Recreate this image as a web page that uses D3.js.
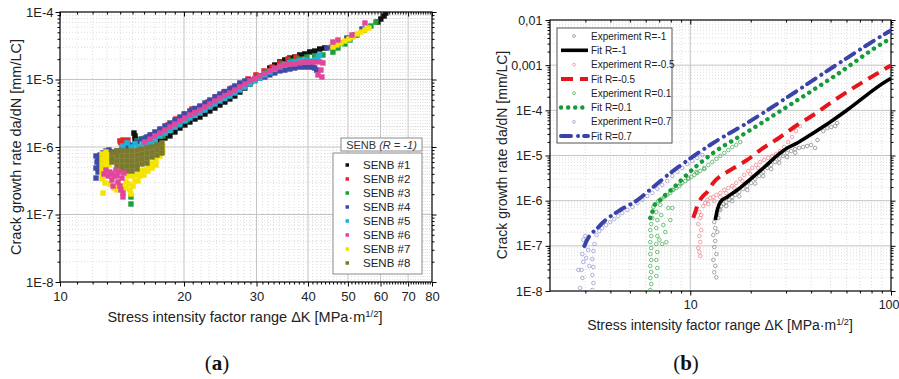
<!DOCTYPE html>
<html>
<head>
<meta charset="utf-8">
<script src="https://cdn.jsdelivr.net/npm/d3@7"></script>
<style>
  body { margin: 0; background: #fff; }
  svg { display: block; font-family: "Liberation Sans", Arial, sans-serif; }
</style>
</head>
<body>
<svg id="fig" width="899" height="379"></svg>
<script>
// ---------------- panel (a): SENB specimens, R = -1 ----------------
const aXTicks = [10, 20, 30, 40, 50, 60, 70, 80];
const aXTickLabels = ["10", "20", "30", "40", "50", "60", "70", "80"];
const aYTicks = [1e-8, 1e-7, 1e-6, 1e-5, 1e-4];
const aYTickLabels = ["1E-8", "1E-7", "1E-6", "1E-5", "1E-4"];
const senbNames = ["SENB #1", "SENB #2", "SENB #3", "SENB #4", "SENB #5", "SENB #6", "SENB #7", "SENB #8"];
const senbColors = ["#111111", "#e8262a", "#1f9e3c", "#3f4aa6", "#1fb2d8", "#e0479c", "#f5e400", "#7b7a2c"];

// [ΔK (MPa·m^1/2), da/dN (mm/LC)]
const senb1 = [[15.12,1.61e-6],[15.21,1.46e-6],[15.21,1.31e-6],
  [17.00,1.11e-6],[17.49,1.23e-6],[17.98,1.36e-6],[18.49,1.46e-6],[19.01,1.67e-6],[19.55,1.91e-6],[20.10,2.12e-6],
  [20.67,2.35e-6],[21.26,2.60e-6],[21.86,2.78e-6],[22.48,3.08e-6],[23.11,3.42e-6],[23.77,3.78e-6],[24.44,4.19e-6],
  [25.13,4.64e-6],[25.84,5.15e-6],[26.57,5.70e-6],[27.33,6.53e-6],[28.10,7.48e-6],[28.89,8.58e-6],[29.71,9.83e-6],
  [30.55,1.13e-5],[31.42,1.29e-5],[32.31,1.48e-5],[33.22,1.64e-5],[34.16,1.82e-5],[35.13,1.95e-5],[36.12,2.08e-5],
  [37.14,2.15e-5],[38.19,2.31e-5],[39.27,2.39e-5],[40.39,2.56e-5],[41.53,2.64e-5],[42.70,2.83e-5],[43.91,2.93e-5],
  [59.1,7.11e-5],[60.1,7.87e-5],[61.2,8.73e-5],[61.8,9.67e-5]];
const senb2 = [[13.98,1.23e-6],[14.22,1.27e-6],[14.46,1.19e-6],[14.62,1.27e-6],[14.06,1.15e-6],
  [16.72,1.51e-6],[17.48,1.79e-6],[18.29,2.12e-6],[19.12,2.60e-6],[20.0,3.08e-6],[20.91,3.66e-6],[21.86,3.92e-6],
  [22.87,4.64e-6],[23.91,5.51e-6],[25.0,6.53e-6],[26.15,7.48e-6],[27.33,8.58e-6],[28.60,1.02e-5],[29.90,1.17e-5],
  [31.27,1.34e-5],[32.70,1.53e-5],[34.16,1.76e-5],[35.76,2.01e-5],[37.39,2.15e-5]];
const senb3 = [[14.87,1.82e-7],[14.87,1.43e-7],
  [15.38,1.23e-6],[15.72,1.31e-6],[16.08,1.36e-6],[16.53,1.27e-6],
  [17.00,1.23e-6],[17.78,1.46e-6],[18.59,1.79e-6],[19.45,2.12e-6],[20.34,2.51e-6],[21.26,2.98e-6],[22.24,3.53e-6],
  [23.25,4.19e-6],[24.31,4.97e-6],[25.42,5.70e-6],[26.57,6.53e-6],[27.81,7.75e-6],[29.08,9.18e-6],[30.41,1.09e-5],
  [31.80,1.29e-5],[33.22,1.48e-5],[34.77,1.70e-5],[36.36,1.88e-5],[38.03,2.01e-5],[39.77,2.15e-5],[41.53,2.23e-5],
  [43.48,2.31e-5],
  [45.98,2.55e-5],[47.28,2.93e-5],[49.17,3.36e-5],[50.57,3.85e-5],[52.59,4.56e-5],[54.69,5.41e-5],[56.87,6.20e-5],
  [58.48,7.11e-5]];
const senb4 = [[12.23,7.36e-7],[12.37,6.87e-7],[12.51,7.61e-7],[12.30,5.99e-7],[12.44,5.60e-7],[12.23,4.88e-7],
  [12.51,4.88e-7],[12.37,4.26e-7],[12.58,6.42e-7],[12.23,3.47e-7],[12.72,8.15e-7],[12.93,8.73e-7],[13.15,9.03e-7],
  [13.37,8.43e-7],[13.75,8.73e-7],[14.14,9.34e-7],[14.54,1.0e-6],[14.95,1.07e-6],[15.38,1.19e-6],[15.81,1.31e-6],
  [16.26,1.41e-6],[16.54,1.51e-6],[17.00,1.67e-6],[17.49,1.85e-6],[17.98,2.05e-6],[18.49,2.27e-6],[19.01,2.51e-6],
  [19.55,2.78e-6],[20.10,3.08e-6],[20.67,3.42e-6],[21.26,3.72e-6],[21.86,4.05e-6],[22.48,4.49e-6],[23.11,4.97e-6],
  [23.77,5.51e-6],[24.44,6.10e-6],[25.13,6.64e-6],[25.84,7.24e-6],[26.57,8.01e-6],[27.33,8.88e-6],[28.10,9.51e-6],
  [28.89,9.83e-6],[29.71,1.0e-5],[30.55,1.05e-5],[31.42,1.09e-5],[32.31,1.17e-5],[33.22,1.25e-5],[34.16,1.34e-5],
  [35.13,1.38e-5],[36.12,1.43e-5],[37.14,1.48e-5],[38.19,1.53e-5],[39.27,1.53e-5],[40.39,1.53e-5],[41.1,1.53e-5],
  [41.53,1.48e-5],[42.0,1.38e-5],
  [44.46,2.93e-5],[45.74,3.03e-5],[47.75,3.47e-5],[49.71,4.12e-5],[51.92,4.56e-5],[54.08,5.60e-5]];
const senb5 = [[14.22,1.035e-6],[14.54,1.15e-6],[14.87,1.0e-6],[15.21,1.11e-6],[15.55,1.0e-6],[15.90,1.11e-6],
  [16.26,1.035e-6],[16.63,1.07e-6],[17.00,1.15e-6],[17.39,1.07e-6],
  [16.54,1.19e-6],[17.00,1.31e-6],[17.49,1.46e-6],[17.98,1.61e-6],[18.49,1.79e-6],[19.01,1.98e-6],[19.55,2.19e-6],
  [20.10,2.43e-6],[20.67,2.69e-6],[21.26,2.93e-6],[21.86,3.19e-6],[22.48,3.53e-6],[23.11,3.92e-6],[23.77,4.34e-6],
  [24.44,4.81e-6],[25.13,5.23e-6],[25.84,5.70e-6],[26.57,6.31e-6],[27.33,6.99e-6],[28.10,7.75e-6],[28.89,8.58e-6],
  [29.71,9.51e-6],[30.55,1.05e-5],[31.42,1.17e-5],[32.31,1.29e-5],[33.22,1.41e-5],[34.16,1.53e-5],[35.13,1.67e-5],
  [36.12,1.76e-5],[37.14,1.82e-5],[38.19,1.88e-5],[39.27,1.95e-5],[40.39,1.88e-5],[41.53,1.95e-5],[42.3,2.15e-5],
  [42.70,2.31e-5]];
const senb6 = [[16.08,1.19e-6],[16.54,1.31e-6],[17.00,1.46e-6],[17.49,1.61e-6],[17.98,1.79e-6],[18.49,1.98e-6],
  [19.01,2.19e-6],[19.55,2.43e-6],[20.10,2.69e-6],[20.67,2.98e-6],[21.26,3.25e-6],[21.86,3.53e-6],[22.48,3.92e-6],
  [23.11,4.34e-6],[23.77,4.81e-6],[24.44,5.32e-6],[25.13,5.80e-6],[25.84,6.31e-6],[26.57,6.99e-6],[27.33,7.75e-6],
  [28.10,8.58e-6],[28.89,9.51e-6],[29.71,1.035e-5],[30.55,1.13e-5],[31.42,1.23e-5],[32.31,1.34e-5],[33.22,1.46e-5],
  [34.16,1.58e-5],[35.13,1.64e-5],[36.12,1.70e-5],[37.14,1.70e-5],[38.19,1.76e-5],[39.27,1.82e-5],[40.39,1.82e-5],
  [41.53,1.82e-5],[42.70,1.82e-5],
  [42.29,1.17e-5],[43.24,1.09e-5],[43.48,1.76e-5],[43.0,1.38e-5],
  [45.98,3.59e-5],[47.28,3.85e-5],[51.13,4.56e-5],[55.0,6.87e-5],
  [12.93,4.56e-7],[13.08,3.72e-7],[13.22,4.26e-7],[13.37,3.24e-7],[13.52,3.72e-7],[13.67,4.56e-7],[13.83,3.03e-7],
  [13.98,2.64e-7],[14.14,3.47e-7],[14.30,4.12e-7],[13.45,2.64e-7],[13.75,3.72e-7],[14.06,2.31e-7],[13.90,4.26e-7],
  [13.37,3.98e-7],[12.79,3.98e-7],[14.22,2.08e-7],[14.22,1.82e-7]];
const senb7 = [[12.65,7.87e-7],[12.65,6.64e-7],[12.65,5.60e-7],[12.65,4.72e-7],[12.65,3.98e-7],[12.65,3.36e-7],
  [12.86,2.93e-7],[12.93,8.43e-7],[12.93,7.11e-7],[12.93,5.99e-7],[12.93,5.05e-7],[13.15,7.61e-7],[13.15,6.42e-7],
  [13.15,5.41e-7],[12.72,2.08e-7],[13.22,2.83e-7],[13.52,2.47e-7],[13.75,2.31e-7],[13.83,2.83e-7],[14.14,2.64e-7],
  [14.46,3.03e-7],[14.46,2.47e-7],[14.70,2.83e-7],[14.79,2.31e-7],[14.87,2.01e-7],[15.04,2.64e-7],[15.21,3.14e-7],
  [14.62,3.72e-7],[14.95,3.72e-7],[15.29,3.85e-7],[15.64,3.72e-7],[15.64,4.41e-7],[15.99,4.56e-7],[15.99,3.85e-7],
  [16.35,5.23e-7],[16.35,4.41e-7],[16.72,5.79e-7],[16.72,4.88e-7],[17.10,6.42e-7],[17.10,5.41e-7],[17.48,9.03e-7],
  [17.48,7.36e-7],[17.78,1.035e-6],[17.78,8.43e-7],[15.46,3.14e-7],
  [45.98,3.03e-5],[47.01,3.25e-5],[48.08,3.47e-5],[49.17,3.72e-5],[50.29,3.98e-5],[51.43,4.26e-5],[52.59,4.72e-5],
  [53.78,5.05e-5],[55.0,5.41e-5],[56.23,5.79e-5]];
const senb8 = [[13.37,8.15e-7],[13.37,6.87e-7],[13.37,5.99e-7],
  [13.75,8.73e-7],[13.75,7.36e-7],[13.75,6.20e-7],[13.75,5.23e-7],
  [14.14,8.73e-7],[14.14,7.36e-7],[14.14,6.20e-7],[14.14,5.23e-7],[14.14,4.56e-7],
  [14.54,8.73e-7],[14.54,7.36e-7],[14.54,6.20e-7],[14.54,5.23e-7],[14.54,4.41e-7],
  [14.95,8.73e-7],[14.95,7.36e-7],[14.95,6.20e-7],[14.95,5.23e-7],[14.95,4.41e-7],
  [15.38,9.03e-7],[15.38,7.61e-7],[15.38,6.42e-7],[15.38,5.41e-7],[15.38,4.72e-7],
  [15.81,9.34e-7],[15.81,7.87e-7],[15.81,6.64e-7],[15.81,5.60e-7],
  [16.26,9.67e-7],[16.26,8.15e-7],[16.26,6.87e-7],[16.26,5.79e-7],
  [16.72,1.0e-6],[16.72,8.43e-7],[16.72,7.11e-7],
  [17.19,1.07e-6],[17.19,9.03e-7],[17.19,7.61e-7],
  [17.68,1.15e-6],[17.68,9.67e-7],[17.68,8.15e-7]];

// ---------------- panel (b): fits and experiments for four R ratios ----------------
const bXTicks = [10, 100];
const bXTickLabels = ["10", "100"];
const bYTicks = [1e-8, 1e-7, 1e-6, 1e-5, 1e-4, 1e-3, 1e-2];
const bYTickLabels = ["1E-8", "1E-7", "1E-6", "1E-5", "1E-4", "0,001", "0,01"];

const fitRm1 = [[13.32,3.73e-7],[13.63,6.22e-7],[14.11,9.35e-7],[15.29,1.21e-6],[17.15,1.72e-6],[19.2,2.59e-6],
  [23.1,5.29e-6],[28.1,1.14e-5],[30.4,1.47e-5],[34.1,1.89e-5],[41.0,3.15e-5],[49.8,5.52e-5],[60.5,1.02e-4],
  [96.8,4.70e-4],[100,5.1e-4]];
const fitRm05 = [[10.35,4.14e-7],[10.59,5.61e-7],[10.96,8.89e-7],[11.48,1.21e-6],[12.15,1.56e-6],[13.0,2.46e-6],
  [15.29,4.32e-6],[19.2,7.96e-6],[22.3,1.32e-5],[28.1,2.57e-5],[34.1,4.73e-5],[41.0,7.88e-5],[49.8,1.45e-4],
  [96.8,9.1e-4],[100,9.9e-4]];
const fitR01 = [[6.32,4.14e-7],[6.47,5.34e-7],[6.54,7.24e-7],[6.93,9.35e-7],[7.51,1.34e-6],[8.23,1.91e-6],
  [9.23,3.18e-6],[13.0,1.14e-5],[19.2,3.31e-5],[27.1,8.73e-5],[51.5,5.47e-4],[96.8,3.61e-3],[100,3.9e-3]];
const fitR07 = [[2.97,1.0e-7],[3.05,1.3e-7],[3.17,1.75e-7],[3.37,2.24e-7],[3.69,3.37e-7],[4.48,6.22e-7],
  [5.45,1.03e-6],[6.54,2.01e-6],[7.95,4.10e-6],[9.44,7.18e-6],[13.0,1.89e-5],[19.2,5.25e-5],[29.0,1.69e-4],
  [51.5,9.1e-4],[96.8,5.42e-3],[100,5.9e-3]];

const expRm1 = [[13.17,3.37e-7],[13.32,2.48e-7],[13.02,1.73e-7],[13.32,1.28e-7],[13.17,9.4e-8],[13.48,6.6e-8],
  [13.02,4.9e-8],[13.32,3.6e-8],[13.17,2.6e-8],[13.48,2.0e-8],[13.63,2.02e-7],[13.79,4.13e-7],
  [13.63,5.06e-7],[13.95,6.53e-7],[14.27,7.6e-7],[14.60,8.4e-7],[15.11,9.3e-7],[15.64,1.04e-6],[16.18,1.21e-6],
  [16.75,1.34e-6],[17.54,1.56e-6],[18.36,1.82e-6],[19.22,2.11e-6],[20.12,2.47e-6],[21.06,3.02e-6],[22.05,3.52e-6],
  [23.08,4.32e-6],[24.16,5.30e-6],[25.29,6.17e-6],[26.48,7.19e-6],[27.72,8.4e-6],[29.02,9.8e-6],[30.37,1.14e-5],
  [31.80,1.26e-5],[33.29,1.39e-5],[34.85,1.47e-5],[36.48,1.54e-5],[38.19,1.62e-5],[39.98,1.71e-5],[41.85,1.47e-5],
  [14.11,6.2e-7],[15.11,7.6e-7],[16.18,9.8e-7],[17.54,1.25e-6],[19.22,1.72e-6],[21.06,2.4e-6],[23.08,3.5e-6],
  [25.29,5.0e-6],[27.72,6.9e-6],[30.37,9.2e-6],[33.29,1.15e-5],
  [43.04,2.2e-5],[45.96,3.49e-5],[48.1,4.06e-5],[50.4,4.28e-5],[52.7,4.5e-5],[53.9,5.24e-5]];
const expRm05 = [[11.09,5.6e-7],[11.21,4.13e-7],[10.96,3.04e-7],[11.34,2.24e-7],[11.09,1.65e-7],[11.21,1.21e-7],
  [10.96,8.95e-8],[11.21,5.95e-8],[11.09,7.3e-8],[11.34,4.8e-7],
  [11.61,7.6e-7],[11.88,8.9e-7],[12.15,1.04e-6],[12.58,1.15e-6],[13.02,1.21e-6],[13.48,1.34e-6],[14.11,1.48e-6],
  [14.77,1.73e-6],[15.46,1.91e-6],[16.18,2.11e-6],[16.94,2.47e-6],[17.73,3.02e-6],[18.57,3.71e-6],[19.44,4.55e-6],
  [20.35,5.30e-6],[21.30,6.17e-6],[22.30,7.19e-6],[23.35,7.97e-6],[24.44,8.87e-6],[25.58,9.8e-6],[26.78,1.08e-5],
  [28.03,1.26e-5],[29.35,1.54e-5],[30.72,1.99e-5],[32.15,2.57e-5],[33.66,3.49e-5],[35.23,4.50e-5],
  [12.29,8.4e-7],[13.17,9.9e-7],[14.11,1.21e-6],[15.11,1.48e-6],[16.55,1.91e-6],[18.15,2.73e-6],[19.89,3.90e-6],
  [21.79,5.30e-6]];
const expR01 = [[6.32,1.05e-8],[6.39,1.43e-8],[6.32,1.94e-8],[6.39,2.63e-8],[6.32,3.58e-8],[6.39,4.86e-8],
  [6.32,6.59e-8],[6.39,8.95e-8],[6.32,1.21e-7],[6.39,1.65e-7],[6.32,2.24e-7],[6.39,3.04e-7],[6.47,4.13e-7],
  [6.47,5.6e-7],[6.54,7.2e-7],
  [6.77,5.6e-7],[6.85,3.72e-7],[6.77,2.48e-7],[6.85,1.65e-7],[6.77,1.10e-7],[6.85,7.3e-8],[6.77,4.86e-8],
  [6.85,3.23e-8],[6.77,2.15e-8],
  [7.09,8.1e-7],[7.17,4.8e-7],[7.34,2.89e-7],[7.51,2.02e-7],[7.60,1.21e-7],[7.77,6.9e-7],[7.95,3.72e-7],
  [8.14,6.9e-7],[7.25,1.10e-7],[7.01,1.36e-7],
  [6.69,8.4e-7],[6.93,9.9e-7],[7.17,1.09e-6],[7.42,1.21e-6],[7.68,1.34e-6],[7.95,1.48e-6],[8.23,1.73e-6],
  [8.52,1.91e-6],[8.82,2.11e-6],[9.12,2.47e-6],[9.44,2.73e-6],[9.77,3.02e-6],[10.12,3.35e-6],[10.47,3.71e-6],
  [10.83,4.11e-6],[11.21,4.55e-6],[11.74,5.30e-6],[12.29,6.17e-6],[12.87,7.19e-6],[13.48,8.4e-6],[14.11,9.8e-6],
  [14.77,1.14e-5],[15.46,1.32e-5],[16.18,1.54e-5],[16.94,1.71e-5],[17.73,1.99e-5],
  [7.51,1.27e-6],[8.14,1.73e-6],[8.92,2.35e-6],[9.77,3.19e-6],[10.71,4.32e-6],[11.74,5.0e-6]];
const expR07 = [[2.83,1.17e-8],[2.90,1.94e-8],[2.87,2.92e-8],[2.93,4.39e-8],[2.90,6.59e-8],[2.97,9.9e-8],
  [2.93,1.36e-7],[3.00,1.65e-7],
  [3.25,1.05e-8],[3.29,1.5e-8],[3.25,2.26e-8],[3.29,3.40e-8],[3.25,5.11e-8],[3.29,7.68e-8],[3.33,1.10e-7],
  [3.03,5.38e-8],[3.10,8.1e-8],[3.14,3.58e-8],[2.77,2.92e-8],
  [3.41,1.73e-7],[3.52,2.13e-7],[3.64,2.48e-7],[3.81,2.89e-7],[3.99,3.37e-7],[4.18,3.92e-7],[4.38,4.57e-7],
  [4.58,5.32e-7],[4.86,6.2e-7],[5.15,7.2e-7],[5.45,8.9e-7],[5.77,1.04e-6],[6.11,1.27e-6],[6.47,1.48e-6],
  [6.85,1.82e-6],[7.25,2.22e-6],[7.68,2.73e-6],[8.14,3.52e-6],[8.62,4.32e-6],[9.12,5.30e-6],[9.66,6.5e-6],
  [10.23,7.6e-6],[10.83,8.87e-6],[11.48,1.03e-5]];

const bLegendNames = ["Experiment R=-1", "Fit R=-1", "Experiment R=-0.5", "Fit R=-0.5",
                      "Experiment R=0.1", "Fit R=0.1", "Experiment R=0.7", "Fit R=0.7"];
const expColors = ["#8f8f8f", "#f28c96", "#4cb25a", "#9c9cd2"];
const fitColors = ["#000000", "#e8141c", "#169a3a", "#3a44a8"];
const fitDash = [null, "12,7", "0.1,7", "10,7,0.1,6"];
const fitCaps = ["butt", "butt", "round", "round"];
const fitWidth = [3.6, 4, 4.4, 4];

// ---------------- shared drawing helpers ----------------
const svg = d3.select("#fig");
const FONT = '"Liberation Sans", Arial, sans-serif';

function decadeMinors(lo, hi) {
  const out = [];
  for (let e = Math.round(Math.log10(lo)); e < Math.round(Math.log10(hi)); e++)
    for (let m = 2; m <= 9; m++) out.push(m * Math.pow(10, e));
  return out;
}

function styleAxis(g, size) {
  g.select(".domain").remove();
  g.selectAll(".tick line").attr("stroke", "#000").attr("stroke-width", 1);
  g.selectAll("text").attr("font-family", FONT).attr("font-size", size).attr("fill", "#222");
}

function frame(g, x, y, o) {
  const [x0, x1] = x.range(), [yb, yt] = y.range();
  const grid = g.append("g");
  grid.selectAll("line.mx").data(o.xMinor).join("line").attr("class", "mx")
    .attr("x1", d => x(d)).attr("x2", d => x(d)).attr("y1", yt).attr("y2", yb)
    .attr("stroke", "#d4d4d4").attr("stroke-width", 0.8).attr("stroke-dasharray", "1,2");
  grid.selectAll("line.my").data(o.yMinor).join("line").attr("class", "my")
    .attr("y1", d => y(d)).attr("y2", d => y(d)).attr("x1", x0).attr("x2", x1)
    .attr("stroke", "#d4d4d4").attr("stroke-width", 0.8).attr("stroke-dasharray", "1,2");
  grid.selectAll("line.gx").data(o.xTicks.filter(d => x(d) > x0 + 1 && x(d) < x1 - 1)).join("line").attr("class", "gx")
    .attr("x1", d => x(d)).attr("x2", d => x(d)).attr("y1", yt).attr("y2", yb)
    .attr("stroke", "#c4c4c4").attr("stroke-width", 1);
  grid.selectAll("line.gy").data(o.yTicks.filter(d => y(d) > yt + 1 && y(d) < yb - 1)).join("line").attr("class", "gy")
    .attr("y1", d => y(d)).attr("y2", d => y(d)).attr("x1", x0).attr("x2", x1)
    .attr("stroke", "#c4c4c4").attr("stroke-width", 1);

  // minor ticks on all four sides
  g.append("g").attr("transform", `translate(${x0},0)`)
    .call(d3.axisLeft(y).tickValues(o.yMinor).tickFormat("").tickSize(2.5).tickSizeOuter(0)).call(a => styleAxis(a, 0));
  g.append("g").attr("transform", `translate(${x1},0)`)
    .call(d3.axisRight(y).tickValues(o.yMinor).tickFormat("").tickSize(2.5).tickSizeOuter(0)).call(a => styleAxis(a, 0));
  g.append("g").attr("transform", `translate(0,${yb})`)
    .call(d3.axisBottom(x).tickValues(o.xMinor).tickFormat("").tickSize(2.5).tickSizeOuter(0)).call(a => styleAxis(a, 0));
  g.append("g").attr("transform", `translate(0,${yt})`)
    .call(d3.axisTop(x).tickValues(o.xMinor).tickFormat("").tickSize(-2.5).tickSizeOuter(0)).call(a => styleAxis(a, 0));

  // major ticks and labels
  g.append("g").attr("transform", `translate(${x0},0)`)
    .call(d3.axisLeft(y).tickValues(o.yTicks).tickFormat((d, i) => o.yLabels[i]).tickSize(4.5).tickPadding(o.yPad).tickSizeOuter(0))
    .call(a => styleAxis(a, o.tickFont));
  g.append("g").attr("transform", `translate(${x1},0)`)
    .call(d3.axisRight(y).tickValues(o.yTicks).tickFormat("").tickSize(4.5).tickSizeOuter(0)).call(a => styleAxis(a, 0));
  const xb = g.append("g").attr("transform", `translate(0,${yb})`)
    .call(d3.axisBottom(x).tickValues(o.xTicks).tickFormat((d, i) => o.xLabels[i]).tickSize(4.5).tickPadding(o.xPad).tickSizeOuter(0))
    .call(a => styleAxis(a, o.tickFont));
  // a label sitting on the right frame edge is kept inside the page
  xb.selectAll(".tick text").filter(d => x(d) > 880).attr("text-anchor", "end").attr("dx", 8);
  g.append("g").attr("transform", `translate(0,${yt})`)
    .call(d3.axisTop(x).tickValues(o.xTicks).tickFormat("").tickSize(-4.5).tickSizeOuter(0)).call(a => styleAxis(a, 0));

  g.append("rect").attr("x", x0).attr("y", yt).attr("width", x1 - x0).attr("height", yb - yt)
    .attr("fill", "none").attr("stroke", "#000").attr("stroke-width", 1.2);
}

function axisTitles(g, cx, xBase, xSize, yx, yCy, ySize) {
  const t = g.append("text").attr("x", cx).attr("y", xBase).attr("text-anchor", "middle")
    .attr("font-family", FONT).attr("font-size", xSize).attr("fill", "#222");
  t.append("tspan").text("Stress intensity factor range \u0394K [MPa\u00b7m");
  t.append("tspan").attr("dy", -5.5).attr("font-size", xSize * 0.66).text("1/2");
  t.append("tspan").attr("dy", 5.5).text("]");
  g.append("text").attr("transform", `translate(${yx},${yCy}) rotate(-90)`).attr("text-anchor", "middle")
    .attr("font-family", FONT).attr("font-size", ySize).attr("fill", "#222")
    .text("Crack growth rate da/dN [mm/LC]");
}

function panelLabel(g, cx, base, letter) {
  const t = g.append("text").attr("x", cx).attr("y", base).attr("text-anchor", "middle")
    .attr("font-family", '"Liberation Serif", "DejaVu Serif", serif').attr("font-size", 21).attr("fill", "#111");
  t.append("tspan").text("(");
  t.append("tspan").attr("font-weight", "bold").text(letter);
  t.append("tspan").text(")");
}

// ---------------- draw panel (a) ----------------
const aX = d3.scaleLog().domain([10, 80]).range([60, 432]);
const aY = d3.scaleLog().domain([1e-8, 1e-4]).range([282, 12]);
const aXMinor = d3.range(11, 80).filter(d => d % 10 !== 0);
const gA = svg.append("g");
frame(gA, aX, aY, {
  xTicks: aXTicks, xLabels: aXTickLabels, yTicks: aYTicks, yLabels: aYTickLabels,
  xMinor: aXMinor, yMinor: decadeMinors(1e-8, 1e-4), tickFont: 13, yPad: 2, xPad: 5
});

svg.append("clipPath").attr("id", "clipA").append("rect").attr("x", 60).attr("y", 12).attr("width", 372).attr("height", 270);
const senbSeries = [senb1, senb2, senb3, senb4, senb5, senb6, senb7, senb8];
const paintOrder = [0, 1, 2, 3, 4, 6, 7, 5];
const SQ = 5.4;
const dots = gA.append("g").attr("clip-path", "url(#clipA)");
paintOrder.forEach(i => {
  dots.append("g").selectAll("rect").data(senbSeries[i]).join("rect")
    .attr("x", d => aX(d[0]) - SQ / 2).attr("y", d => aY(d[1]) - SQ / 2)
    .attr("width", SQ).attr("height", SQ).attr("fill", senbColors[i]);
});

// legend (a)
const legA = gA.append("g");
legA.append("rect").attr("x", 341).attr("y", 138).attr("width", 81).attr("height", 13)
  .attr("fill", "#fff").attr("stroke", "#8a8a8a").attr("stroke-width", 1);
const ttl = legA.append("text").attr("x", 381.5).attr("y", 148.5).attr("text-anchor", "middle")
  .attr("font-family", FONT).attr("font-size", 11).attr("fill", "#333");
ttl.append("tspan").text("SENB ");
ttl.append("tspan").attr("font-style", "italic").text("(R = -1)");
legA.append("rect").attr("x", 333).attr("y", 153).attr("width", 89).attr("height", 121)
  .attr("fill", "#fff").attr("stroke", "#8a8a8a").attr("stroke-width", 1);
senbNames.forEach((n, i) => {
  const cy = 165 + 14 * i;
  legA.append("rect").attr("x", 345.5).attr("y", cy - 1.75).attr("width", 3.5).attr("height", 3.5).attr("fill", senbColors[i]);
  legA.append("text").attr("x", 363).attr("y", cy + 4).attr("font-family", FONT).attr("font-size", 11.5)
    .attr("fill", "#222").text(n);
});
axisTitles(gA, 245, 322, 14.5, 21, 147, 14.5);
panelLabel(gA, 217, 370, "a");

// ---------------- draw panel (b) ----------------
const bX = d3.scaleLog().domain([2, 100]).range([550, 891]);
const bY = d3.scaleLog().domain([1e-8, 1e-2]).range([291, 20]);
const bXMinor = [3, 4, 5, 6, 7, 8, 9, 20, 30, 40, 50, 60, 70, 80, 90];
const gB = svg.append("g");
frame(gB, bX, bY, {
  xTicks: bXTicks, xLabels: bXTickLabels, yTicks: bYTicks, yLabels: bYTickLabels,
  xMinor: bXMinor, yMinor: decadeMinors(1e-8, 1e-2), tickFont: 12.5, yPad: 3, xPad: 5
});
svg.append("clipPath").attr("id", "clipB").append("rect").attr("x", 550).attr("y", 20).attr("width", 341).attr("height", 271);
const plotB = gB.append("g").attr("clip-path", "url(#clipB)");
[expRm1, expRm05, expR01, expR07].forEach((s, i) => {
  plotB.append("g").selectAll("circle").data(s).join("circle")
    .attr("cx", d => bX(d[0])).attr("cy", d => bY(d[1])).attr("r", 1.8)
    .attr("fill", "none").attr("stroke", expColors[i]).attr("stroke-width", 0.8);
});
const fitLine = d3.line().x(d => bX(d[0])).y(d => bY(d[1])).curve(d3.curveMonotoneX);
[fitRm1, fitRm05, fitR01, fitR07].forEach((s, i) => {
  plotB.append("path").datum(s).attr("d", fitLine).attr("fill", "none")
    .attr("stroke", fitColors[i]).attr("stroke-width", fitWidth[i])
    .attr("stroke-dasharray", fitDash[i]).attr("stroke-linecap", fitCaps[i]);
});

// legend (b)
const legB = gB.append("g");
legB.append("rect").attr("x", 557).attr("y", 28).attr("width", 115).attr("height", 115)
  .attr("fill", "#fff").attr("stroke", "#555").attr("stroke-width", 1);
bLegendNames.forEach((n, i) => {
  const cy = 36 + 14.3 * i, k = Math.floor(i / 2);
  if (i % 2 === 0) {
    legB.append("circle").attr("cx", 574).attr("cy", cy).attr("r", 1.4)
      .attr("fill", "none").attr("stroke", expColors[k]).attr("stroke-width", 0.8);
  } else {
    legB.append("line").attr("x1", 561).attr("x2", 588).attr("y1", cy).attr("y2", cy)
      .attr("stroke", fitColors[k]).attr("stroke-width", fitWidth[k])
      .attr("stroke-dasharray", fitDash[k]).attr("stroke-linecap", fitCaps[k]);
  }
  legB.append("text").attr("x", 591).attr("y", cy + 3.6).attr("font-family", FONT).attr("font-size", 10)
    .attr("fill", "#222").text(n);
});
axisTitles(gB, 720, 330, 14, 507, 155, 14);
panelLabel(gB, 686, 370, "b");
</script>
</body>
</html>
